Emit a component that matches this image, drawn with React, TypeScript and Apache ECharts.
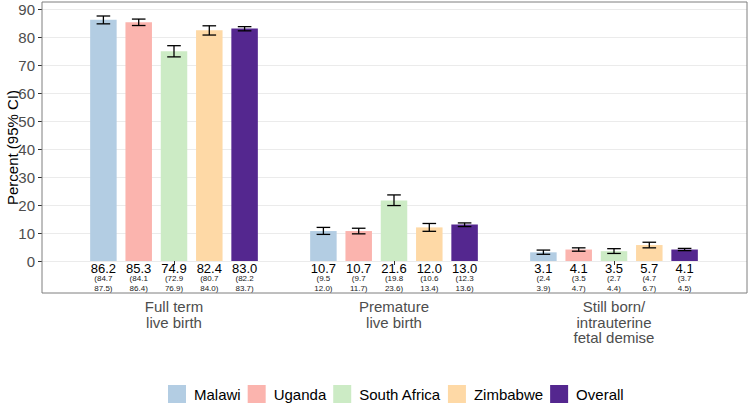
import React, { useEffect, useRef } from "react";
import * as echarts from "echarts";

const categories = ["Full term\nlive birth", "Premature\nlive birth", "Still born/\nintrauterine\nfetal demise"];
const seriesNames = ["Malawi", "Uganda", "South Africa", "Zimbabwe", "Overall"];
const colors = ["#b3cde3", "#fbb4ae", "#ccebc5", "#fed9a6", "#54278f"];

const malawi = [86.2, 10.7, 3.1];
const uganda = [85.3, 10.7, 4.1];
const southAfrica = [74.9, 21.6, 3.5];
const zimbabwe = [82.4, 12.0, 5.7];
const overall = [83.0, 13.0, 4.1];

const malawiLow = [84.7, 9.5, 2.4];
const ugandaLow = [84.1, 9.7, 3.5];
const southAfricaLow = [72.9, 19.8, 2.7];
const zimbabweLow = [80.7, 10.6, 4.7];
const overallLow = [82.2, 12.3, 3.7];

const malawiHigh = [87.5, 12.0, 3.9];
const ugandaHigh = [86.4, 11.7, 4.7];
const southAfricaHigh = [76.9, 23.6, 4.4];
const zimbabweHigh = [84.0, 13.4, 6.7];
const overallHigh = [83.7, 13.6, 4.5];

const yTicksMin = 0;
const yTicksMax = 90;
const yInterval = 10;

const values = [malawi, uganda, southAfrica, zimbabwe, overall];
const lows = [malawiLow, ugandaLow, southAfricaLow, zimbabweLow, overallLow];
const highs = [malawiHigh, ugandaHigh, southAfricaHigh, zimbabweHigh, overallHigh];

const BAR_W = 26.5;
const BAR_GAP_PX = 8.8;

export default function App() {
  const ref = useRef<HTMLDivElement>(null);
  useEffect(() => {
    if (!ref.current) return;
    const chart = echarts.init(ref.current, undefined, { renderer: "svg" });
    const pitch = BAR_W + BAR_GAP_PX;
    // panel: x 42..747, y 2..293 ; zero at y=261, 90 at y=9
    const pxPerUnit = (261 - 9) / 90;
    const panelMax = 90 + (9 - 2) / pxPerUnit;
    const panelMin = -(293 - 261) / pxPerUnit;

    const barSeries = seriesNames.map((name, s) => ({
      name,
      type: "bar",
      xAxisIndex: 1,
      yAxisIndex: 1,
      barWidth: BAR_W,
      barGap: (BAR_GAP_PX / BAR_W) * 100 + "%",
      itemStyle: { color: colors[s] },
      data: values[s],
      label: {
        show: true,
        position: "bottom",
        distance: 1,
        formatter: (p: any) =>
          `{a|${values[s][p.dataIndex].toFixed(1)}}\n{b|(${lows[s][p.dataIndex].toFixed(1)}}\n{b|${highs[s][p.dataIndex].toFixed(1)})}`,
        rich: {
          a: { fontSize: 13, lineHeight: 12, color: "#000", fontFamily: "Liberation Sans" },
          b: { fontSize: 8, lineHeight: 9.5, color: "#1a1a1a", fontFamily: "Liberation Sans" },
        },
        align: "center",
      },
    }));

    const errData: any[] = [];
    seriesNames.forEach((_, s) => {
      categories.forEach((_, c) => {
        errData.push([c, lows[s][c], highs[s][c], s]);
      });
    });

    const errSeries = {
      type: "custom",
      xAxisIndex: 1,
      yAxisIndex: 1,
      silent: true,
      data: errData,
      renderItem: (params: any, api: any) => {
        const c = api.value(0);
        const lo = api.value(1);
        const hi = api.value(2);
        const s = api.value(3);
        const base = api.coord([c, lo]);
        const top = api.coord([c, hi]);
        const x = base[0] + (s - 2) * pitch;
        const hw = 6.8;
        const st = { stroke: "#000", lineWidth: 1.3 };
        return {
          type: "group",
          children: [
            { type: "line", shape: { x1: x, y1: base[1], x2: x, y2: top[1] }, style: st },
            { type: "line", shape: { x1: x - hw, y1: base[1], x2: x + hw, y2: base[1] }, style: st },
            { type: "line", shape: { x1: x - hw, y1: top[1], x2: x + hw, y2: top[1] }, style: st },
          ],
        };
      },
      z: 5,
    };

    chart.setOption({
      animation: false,
      backgroundColor: "#fff",
      textStyle: { fontFamily: "Liberation Sans" },
      grid: [
        { left: 42, top: 9, width: 705, height: 252, containLabel: false },
        { left: 64, top: 2, width: 660, height: 291, containLabel: false },
      ],
      xAxis: [
        { type: "value", gridIndex: 0, show: false, min: 0, max: 1 },
        {
          type: "category",
          gridIndex: 1,
          data: categories,
          position: "bottom",
          axisLine: { show: false },
          axisTick: { show: true, alignWithLabel: true, length: 4, lineStyle: { color: "#333" } },
          axisLabel: {
            fontSize: 15,
            lineHeight: 15.5,
            color: "#4d4d4d",
            margin: 6,
            interval: 0,
            fontFamily: "Liberation Sans",
          },
        },
      ],
      yAxis: [
        {
          type: "value",
          gridIndex: 0,
          min: yTicksMin,
          max: yTicksMax,
          interval: yInterval,
          axisLine: { show: false },
          axisTick: { show: true, length: 4, lineStyle: { color: "#333" } },
          axisLabel: { fontSize: 15, color: "#4d4d4d", margin: 7, fontFamily: "Liberation Sans" },
          splitLine: { show: true, lineStyle: { color: "#ebebeb", width: 1 } },
        },
        {
          type: "value",
          gridIndex: 1,
          min: panelMin,
          max: panelMax,
          show: false,
          splitLine: { show: false },
        },
      ],
      legend: {
        data: seriesNames,
        left: 168,
        top: 385,
        padding: 0,
        itemWidth: 18,
        itemHeight: 18,
        itemGap: 7,
        icon: "rect",
        textStyle: { fontSize: 15, color: "#000", fontFamily: "Liberation Sans", padding: [0, 0, 0, 3] },
      },
      graphic: [
        {
          type: "rect",
          shape: { x: 42, y: 2, width: 705, height: 291 },
          style: { fill: "none", stroke: "#7f7f7f", lineWidth: 1 },
          z: 100,
          silent: true,
        },
        {
          type: "text",
          x: 12,
          y: 147.5,
          rotation: Math.PI / 2,
          style: {
            text: "Percent (95% CI)",
            fontSize: 15,
            fill: "#000",
            fontFamily: "Liberation Sans",
            textAlign: "center",
            textVerticalAlign: "middle",
          },
        },
      ],
      series: [...barSeries, errSeries],
    });
    return () => chart.dispose();
  }, []);
  return <div ref={ref} style={{ width: 750, height: 405, position: "absolute", left: 0, top: 0 }} />;
}
